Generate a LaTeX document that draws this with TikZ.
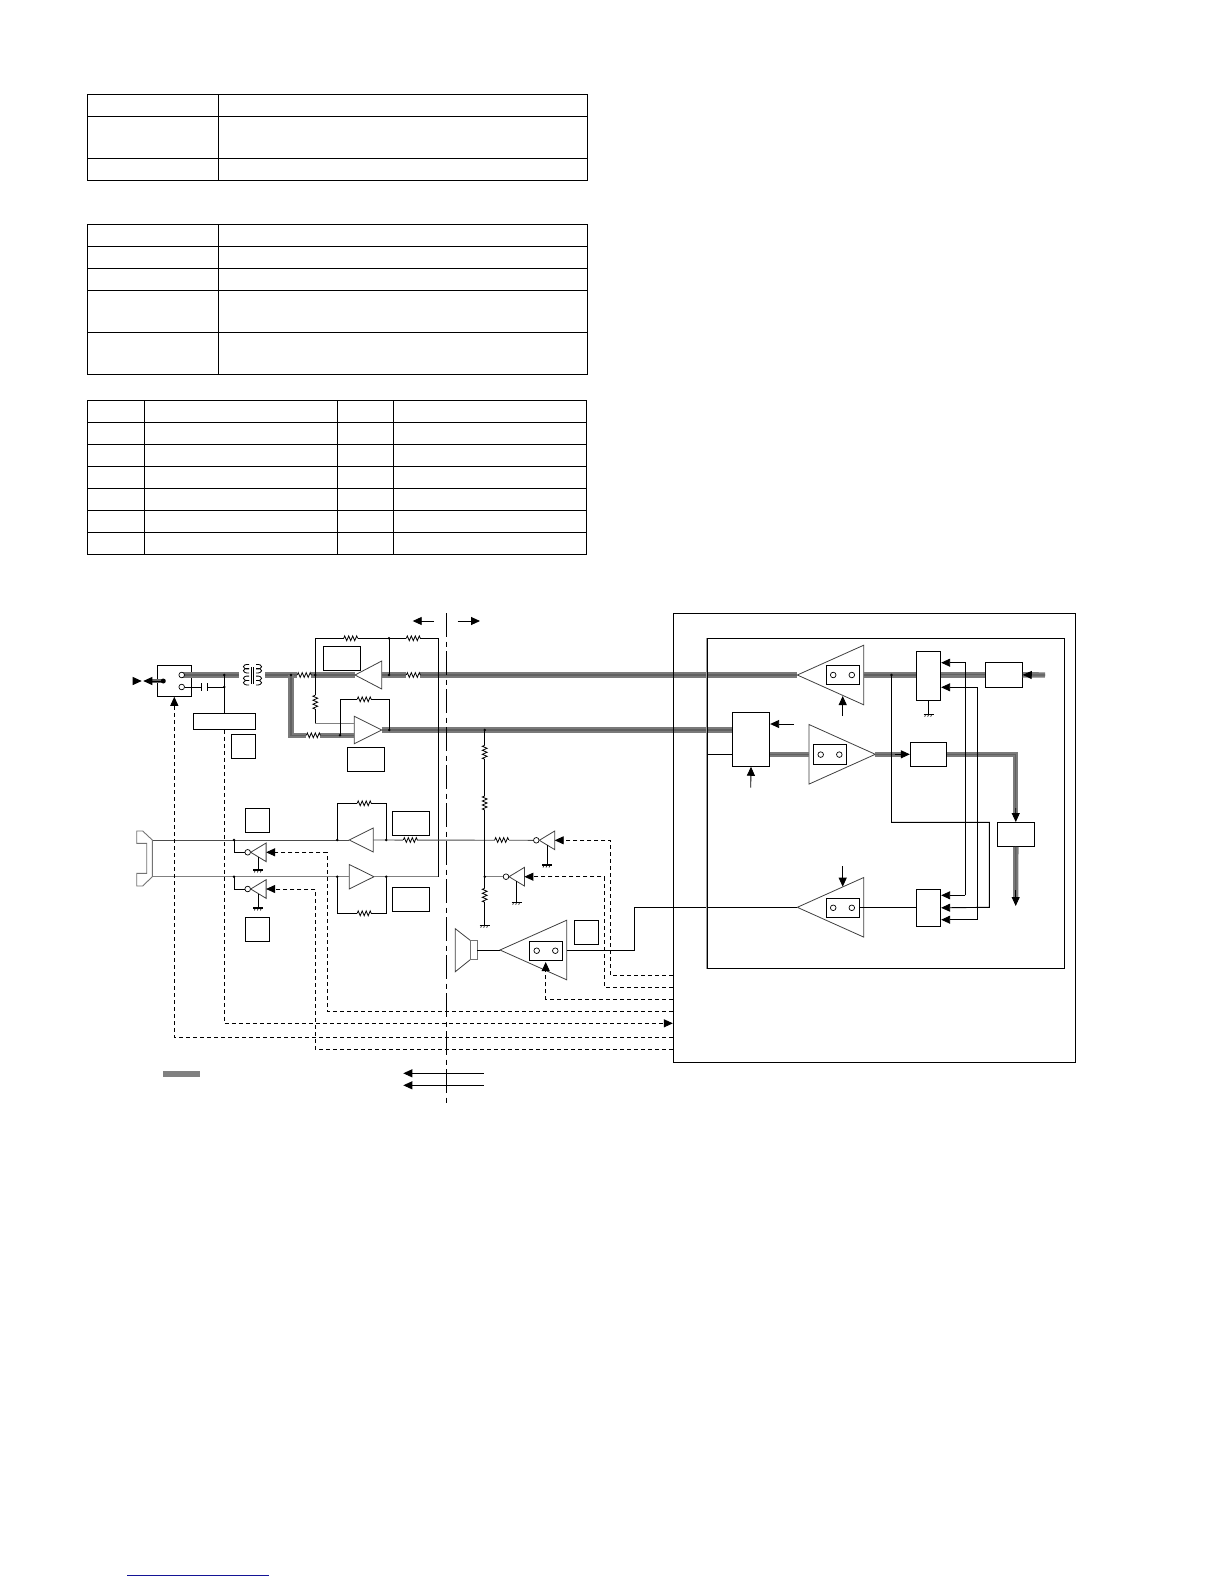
\documentclass[tikz,border=0pt]{standalone}
\usepackage{tikz}
\usepackage{xcolor}
\usetikzlibrary{arrows.meta,decorations.pathmorphing}
\definecolor{linknavy}{RGB}{20,20,150}
\tikzset{
	tabline/.style={line width=1.1pt,line cap=rect},
	wire/.style={line width=0.9pt},
	greywire/.style={line width=0.9pt,draw=black!50},
	ctl/.style={line width=0.9pt,dash pattern=on 4.3pt off 2.7pt},
	sigtip/.style={-{Triangle[length=9pt,width=8pt]}},
	bus/.style={line width=1.2pt,draw=black!62,preaction={draw=black!52,line width=5.4pt}},
	block/.style={draw,line width=0.9pt,fill=white,inner sep=0pt},
	sqbox/.style={block,minimum width=24pt,minimum height=24pt},
	widebox/.style={block,minimum width=37pt,minimum height=24pt},
	knobbox/.style={block,minimum width=33pt,minimum height=19.5pt},
	bubble/.style={circle,draw,line width=0.7pt,fill=white,inner sep=0pt,minimum size=5.6pt},
	junct/.style={circle,fill=black,inner sep=0pt,minimum size=2.8pt},
	resh/.pic={
		\fill[white] (-7,-3.5) rectangle (7,3.5);
		\draw[line width=0.8pt,decorate,decoration={zigzag,segment length=4pt,amplitude=2.4pt}] (-7,0) -- (7,0);
	},
	gnd/.pic={
		\draw[line width=1.6pt] (-5,0) -- (5,0);
		\foreach \tick in {-3,0,3}
			\draw[line width=0.6pt] (\tick,0) -- (\tick-1,2.4);
	},
	xfmr/.pic={
		\foreach \coily in {-8.3,-4.3,3.3,7.7}{
			\draw[line width=0.8pt] (-3.5,\coily-2.2) .. controls (-11,\coily-3) and (-11,\coily+3) .. (-3.5,\coily+2.2);
			\draw[line width=0.8pt] (3.5,\coily-2.2) .. controls (11,\coily-3) and (11,\coily+3) .. (3.5,\coily+2.2);
		}
		\draw[line width=0.7pt] (-1.3,-8) -- (-1.3,9) (1.3,-8) -- (1.3,9);
	}
}
\newcommand{\ampshape}[5]{
	\draw[line width=0.8pt,draw=black!75,fill=white] (#2,#3) -- (#4,#3-#5) -- (#4,#3+#5) -- cycle;
	\coordinate (#1-a) at (#2,#3);
	\coordinate (#1-b) at (#4,#3);
}
\newcommand{\knob}[3]{
	\node[knobbox] (#1) at (#2,#3) {};
	\node[bubble] (#1-l) at (#2-9.3,#3) {};
	\node[bubble] (#1-r) at (#2+9.3,#3) {};
}
\newcommand{\invgate}[4]{
	\node[bubble] (#1-bub) at (#2,#3) {};
	\draw[line width=0.8pt,draw=black!75,fill=white] (#2+3,#3) -- (#2+18.4,#3-9.3) -- (#2+18.4,#3+9.3) -- cycle;
	\coordinate (#1-base) at (#2+18.4,#3);
	\coordinate (#1-gnd) at (#2+10.7,#3+#4);
	\draw[wire] (#2+10.7,#3+4.6) -- (#1-gnd);
	\pic at (#1-gnd) {gnd};
}

\begin{document}
\begin{tikzpicture}[x=1pt,y=-1pt]
	\useasboundingbox[fill=white] (0,0) rectangle (1224,1584);

	\foreach \taby in {94.3,116.3,158.3,180.3,224.3,246.3,268.3,290.3,332.3,374.3}
		\draw[tabline] (87.3,\taby) -- (587.3,\taby);
	\foreach \tabtop/\tabbot in {94.3/180.3,224.3/374.3}
		\foreach \tabx in {87.3,218.3,587.3}
			\draw[tabline] (\tabx,\tabtop) -- (\tabx,\tabbot);
	\foreach \rowno in {0,...,7}
		\draw[tabline] (87.3,400.3+22*\rowno) -- (586.3,400.3+22*\rowno);
	\foreach \tabx in {87.3,144.4,337.4,393.5,586.3}
		\draw[tabline] (\tabx,400.3) -- (\tabx,554.3);

	\node[block,minimum width=34pt,minimum height=31pt] (termbox) at (174.3,680.8) {};
	\node[block,minimum width=62pt,minimum height=16pt] (relay) at (224.3,721.3) {};
	\node[sqbox] (sqrelay) at (243.3,746.3) {};
	\node[widebox] (boxrx) at (342,658.5) {};
	\node[widebox] (boxtx) at (365.8,759.3) {};
	\node[widebox] (boxmica) at (410.8,823.3) {};
	\node[widebox] (boxmicb) at (410.8,899.8) {};
	\node[sqbox] (sqmica) at (257.3,820.3) {};
	\node[sqbox] (sqmicb) at (257.3,929.3) {};
	\node[sqbox] (sqspk) at (586.3,932.3) {};
	\node[block,minimum width=24pt,minimum height=48.6pt] (codec) at (928.7,676) {};
	\node[block,minimum width=24pt,minimum height=37pt] (mixout) at (928.7,907.8) {};
	\node[widebox,minimum height=25pt] (dac) at (1003.8,674.8) {};
	\node[block,minimum width=37.4pt,minimum height=54pt] (mixin) at (751,739.3) {};
	\node[widebox,minimum width=36.4pt] (adc) at (928.5,754.3) {};
	\node[widebox] (digif) at (1015.8,834.5) {};

	\ampshape{ampa}{355}{675}{381.7}{14}
	\ampshape{ampb}{381.7}{730}{354.3}{13.7}
	\ampshape{ampc}{349.3}{840}{373.3}{12}
	\ampshape{ampd}{374}{876.7}{349.3}{12.2}
	\ampshape{ampspk}{500}{950}{566.7}{29.8}
	\ampshape{amprx}{797.3}{675}{863.7}{29.8}
	\ampshape{amptx}{875.3}{754.3}{809}{29.8}
	\ampshape{ampsd}{797.3}{907.3}{863.7}{29.8}

	\coordinate (hsa) at (152.3,840);
	\coordinate (hsb) at (152.3,876.7);
	\coordinate (rxnode) at (291,675);
	\coordinate (txin) at (354.3,735.3);
	\coordinate (micin) at (484.7,730);
	\coordinate (sense) at (891.5,675);

	\draw[bus] (181.7,675) -- (239,675);
	\draw[bus] (265.3,675) -- (ampa-a);
	\draw[bus] (rxnode) -- (291,735.3) -- (txin);
	\draw[bus] (ampa-b) -- (amprx-a);
	\draw[bus] (ampb-a) -- (mixin.west |- ampb-a);
	\draw[bus] (mixin.east |- amptx-a) -- (amptx-b);
	\draw[bus] (amprx-b) -- (codec.west |- amprx-b);
	\draw[bus] (codec.east |- dac.west) -- (dac.west);
	\draw[bus] (1045,675) -- (dac.east);
	\draw[bus] (amptx-a) -- (902,754.3);
	\draw[bus] (adc.east) -- (1015.7,754.3) -- (1015.7,813);
	\draw[bus] (digif.south) -- (1015.7,897);
	\draw[line width=4.5pt,draw=black!60] (150,681) -- (162,681);

	\draw[sigtip,wire] (1031,675) -- (dac.east);
	\draw[sigtip,wire] (895,754.3) -- (adc.west);
	\draw[sigtip,wire] (1015.7,808) -- (digif.north);
	\draw[sigtip,wire] (1015.7,890) -- (1015.7,906);
	\draw[sigtip,wire] (133,681) -- (141.7,681);
	\draw[sigtip,wire] (163.3,681) -- (143.3,681);
	\node[junct,minimum size=5pt] (jackdot) at (163.3,681) {};

	\node[bubble] (terma) at (181.7,675) {};
	\node[bubble] (termb) at (181.7,687) {};
	\draw[wire] (termb) -- (201.3,687) (207.3,687) -- (224.3,687);
	\node[inner sep=0pt] (capnode) at (204.3,687) {};
	\draw[line width=1.5pt] (201.3,683.3) -- (201.3,691) (207.3,683.3) -- (207.3,691);
	\draw[wire] (224.3,675) -- (relay.north);
	\pic at (252.5,675) {xfmr};

	\draw[wire] (315.3,675) -- (315.3,638.3) -- (438.3,638.3) -- (438.3,876.7);
	\draw[wire] (389,638.3) -- (389,675);
	\draw[wire] (315.3,675) -- (315.3,723.3);
	\draw[greywire] (315.3,723.3) -- (354.3,723.3);
	\draw[wire] (340,735.3) -- (340,699.3) -- (389.3,699.3) -- (389.3,730);

	\invgate{inva}{247.7}{852.3}{17.7}
	\invgate{invb}{247.7}{889}{19}
	\invgate{invc}{536.3}{840.3}{24.7}
	\invgate{invd}{506}{876.7}{25.6}

	\draw[draw=black!70,line width=0.9pt] (hsa) -- (ampc-a);
	\draw[draw=black!70,line width=0.9pt] (ampc-b) -- (invc-bub.west);
	\draw[greywire] (hsb) -- (ampd-b);
	\draw[greywire] (ampd-a) -- (438.3,876.7);
	\draw[wire] (337.3,840) -- (337.3,803.3) -- (386.3,803.3) -- (386.3,840);
	\draw[wire] (337.3,876.7) -- (337.3,913.3) -- (386.3,913.3) -- (386.3,876.7);
	\draw[wire] (234,840) |- (inva-bub.west);
	\draw[wire] (234,876.7) |- (invb-bub.west);
	\draw[wire] (micin) -- (484.7,925.3);
	\pic at (484.7,925.3) {gnd};
	\draw[greywire] (484.7,876.7) -- (invd-bub.west);

	\draw[line width=0.9pt,draw=black!55,fill=white] (hsa) -- (142.7,831) -- (136.7,831) -- (136.7,843.3) -- (146.7,843.3) -- (146.7,873.3) -- (136.7,873.3) -- (136.7,886) -- (142.7,886) -- (hsb) -- cycle;

	\draw[line width=0.8pt,draw=black!75,fill=white] (455.3,928.7) -- (470.7,940.7) -- (470.7,959.3) -- (455.3,971.7) -- cycle;
	\node[draw=black!55,line width=0.8pt,fill=white,inner sep=0pt,minimum width=6.3pt,minimum height=18.6pt] (spkmag) at (473.8,950) {};
	\draw[wire] (spkmag.east) -- (ampspk-a);
	\draw[wire] (ampspk-b) -- (634,950) -- (634,907.3) -- (ampsd-a);

	\knob{knobspk}{546}{950.7}
	\knob{knobrx}{842.5}{675}
	\knob{knobtx}{830}{754.6}
	\knob{knobsd}{842.5}{907.8}

	\node[draw,line width=0.9pt,inner sep=0pt,minimum width=401.7pt,minimum height=448.7pt] (mainbox) at (874.15,837.95) {};
	\node[draw,line width=0.8pt,inner sep=0pt,minimum width=357.4pt,minimum height=330pt] (dspbox) at (886,803.3) {};
	\draw[line width=1.1pt,draw=black!38] (dspbox.north west) -- (dspbox.south west);

	\foreach \portname/\porty in {porta/975.7,portb/987.3,portc/999.3,portd/1011.3,porte/1023.3,portf/1037.3,portg/1049.3}
		\coordinate (\portname) at (mainbox.west |- 0,\porty);

	\draw[ctl,sigtip] (porta) -| (610.7,840.3) -- (invc-base);
	\draw[ctl,sigtip] (portb) -| (604.3,876.7) -- (invd-base);
	\draw[ctl,sigtip] (portc) -| (545.7,962);
	\draw[ctl] (portd) -| (327.3,852.3);
	\draw[ctl,sigtip] (327.3,852.3) -- (inva-base);
	\draw[ctl,sigtip] (relay.south) |- (porte);
	\draw[ctl,sigtip] (portf) -| (termbox.south);
	\draw[ctl] (portg) -| (315.3,889);
	\draw[ctl,sigtip] (315.3,889) -- (invb-base);

	\draw[wire] (mixin.west |- 0,754.3) -- (dspbox.west |- 0,754.3);
	\draw[wire,sigtip] (794,724) -- (mixin.east |- 0,724);
	\draw[wire,sigtip] (750.7,787.7) -- (mixin.south);
	\draw[wire,sigtip] (842.7,716) -- (842.7,696);
	\draw[wire,sigtip] (842.7,866) -- (842.7,886.7);
	\draw[wire] (codec.south) -- (928.7,714.3);
	\pic at (928.7,714.3) {gnd};

	\draw[wire] (knobsd.east) -- (mixout.west);
	\draw[wire,sigtip] (965.3,895.3) -- (965.3,662.7) -- (codec.east |- 0,662.7);
	\draw[wire,sigtip] (977.3,919.7) -- (977.3,687.3) -- (codec.east |- 0,687.3);
	\draw[wire,sigtip] (965.3,895.3) -- (mixout.east |- 0,895.3);
	\draw[wire,sigtip] (977.3,919.7) -- (mixout.east |- 0,919.7);
	\draw[wire,sigtip] (sense) -- (891.5,822.3) -- (989.3,822.3) -- (989.3,907.3) -- (mixout.east);

	\foreach \resx/\resy in {350.7/638.3,413.3/638.3,304.2/675,413.3/675,313.3/735.3,364.2/699.3,364.2/803.3,410.3/840,501.7/840,364.2/913.3}
		\pic at (\resx,\resy) {resh};
	\foreach \resx/\resy in {315.3/702.2,484.7/752.3,484.7/803,484.7/895.3}
		\pic[rotate=90] at (\resx,\resy) {resh};

	\foreach \jx/\jy in {291/675,315.3/675,389/638.3,389/675,224.3/675,224.3/687,340/735.3,389.3/730,234/840,234/876.7,337.3/840,337.3/876.7,386.3/840,386.3/876.7,484.7/730,484.7/876.7,891.5/675}
		\node[junct] at (\jx,\jy) {};

	\draw[wire,dash pattern=on 24pt off 4.5pt on 5pt off 4.5pt] (446.7,613) -- (446.7,1106);
	\draw[wire,sigtip] (434,621) -- (412.7,621);
	\draw[wire,sigtip] (457.6,621) -- (480,621);
	\draw[wire,sigtip] (483.7,1073.3) -- (403.3,1073.3);
	\draw[wire,sigtip] (483.7,1085.3) -- (403.3,1085.3);
	\fill[black!50] (163.3,1071) rectangle (200,1076.7);

	\draw[linknavy,line width=1pt] (127,1575) -- (269,1575);
\end{tikzpicture}
\end{document}
